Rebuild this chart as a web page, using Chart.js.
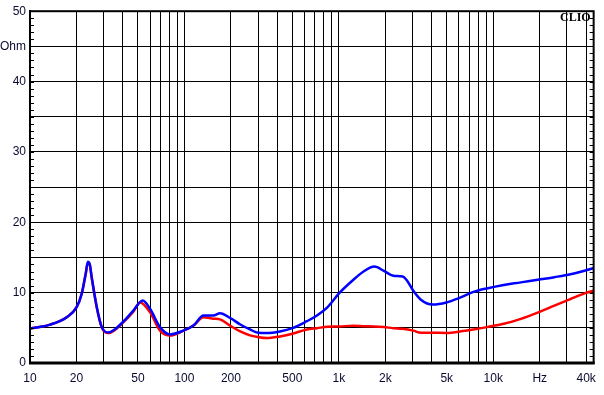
<!DOCTYPE html>
<html>
<head>
<meta charset="utf-8">
<script src="https://cdn.jsdelivr.net/npm/chart.js@4"></script>
<style>
  html, body { margin: 0; padding: 0; background: #ffffff; }
  #wrap { width: 604px; height: 395px; }
</style>
</head>
<body>
<div id="wrap"><canvas id="c" width="604" height="395"></canvas></div>
<script>
// ---- Data ----
const freqBlue = [10, 13.5, 17.3, 20, 21.6, 23, 23.7, 24.4, 25.1, 27.1, 29.2, 32.2, 35, 40.3, 46.7, 53.7, 59.9, 69.5, 80.8, 98.5, 114.5, 133, 154, 170, 198, 230, 266, 300, 341, 416, 500, 621, 722, 843, 1013, 1238, 1440, 1700, 1957, 2255, 2590, 2770, 3030, 3400, 4080, 4970, 6100, 7450, 9080, 11700, 15100, 19400, 24900, 31700, 39000, 44700];
const ohmBlue  = [4.9, 5.45, 6.5, 7.9, 9.8, 12.8, 14.4, 14.0, 12.2, 7.9, 5.1, 4.34, 4.7, 5.9, 7.45, 8.87, 7.7, 5.1, 4.06, 4.6, 5.33, 6.75, 6.75, 7.07, 6.4, 5.47, 4.77, 4.3, 4.25, 4.48, 4.95, 5.94, 6.75, 7.92, 10.0, 11.8, 12.97, 13.7, 13.1, 12.4, 12.3, 11.7, 10.3, 9.0, 8.3, 8.6, 9.3, 10.1, 10.6, 11.1, 11.46, 11.84, 12.2, 12.6, 13.1, 13.5];

const freqRed = [10, 13.5, 17.3, 20, 21.6, 23, 23.7, 24.4, 25.1, 27.1, 29.2, 32.2, 35, 40.3, 46.7, 51.7, 59.9, 69.5, 80.8, 98.5, 114.5, 133, 154, 170, 198, 230, 266, 300, 341, 416, 500, 621, 722, 843, 1013, 1238, 1440, 1700, 1957, 2255, 2590, 3030, 3400, 4080, 4970, 6100, 7450, 9080, 11700, 15100, 19400, 24900, 31700, 39000, 44700];
const ohmRed  = [4.9, 5.45, 6.5, 7.9, 9.8, 12.8, 14.3, 13.9, 12.1, 7.8, 5.0, 4.25, 4.6, 5.8, 7.3, 8.6, 7.2, 4.6, 3.9, 4.6, 5.33, 6.5, 6.3, 6.2, 5.3, 4.48, 3.92, 3.68, 3.54, 3.78, 4.15, 4.77, 4.95, 5.15, 5.2, 5.29, 5.24, 5.2, 5.1, 4.95, 4.86, 4.6, 4.3, 4.3, 4.28, 4.48, 4.77, 5.1, 5.57, 6.28, 7.17, 8.16, 9.1, 9.9, 10.3];

const xGridValues  = [10, 20, 30, 40, 50, 60, 70, 80, 90, 100, 200, 300, 400, 500, 600, 700, 800, 900, 1000, 2000, 3000, 4000, 5000, 6000, 7000, 8000, 9000, 10000, 20000, 30000, 40000];
const xLabelValues = [10, 20, 50, 100, 200, 500, 1000, 2000, 5000, 10000, 20000, 40000];
const xLabelTexts  = ['10', '20', '50', '100', '200', '500', '1k', '2k', '5k', '10k', 'Hz', '40k'];

const yLabelValues = [0, 10, 20, 30, 40, 45, 50];
const yLabelTexts  = ['0', '10', '20', '30', '40', 'Ohm', '50'];

const chartTitle = 'CLIO';

// ---- Helpers ----
const toPoints = (xs, ys) => xs.map((x, i) => ({ x: x, y: ys[i] }));
const textColor = '#0a0a30';
const tickFont = { family: "'Liberation Sans', Arial, sans-serif", size: 12 };

const framePlugin = {
  id: 'frame',
  afterDraw(chart) {
    const ctx = chart.ctx;
    const a = chart.chartArea;
    const ys = chart.scales.y;
    ctx.save();
    // minor ticks every 1 Ohm, inside left and right borders
    ctx.strokeStyle = '#000';
    ctx.lineWidth = 1;
    for (let v = ys.min; v <= ys.max; v += 1) {
      const py = Math.round(ys.getPixelForValue(v)) + 0.5;
      ctx.beginPath();
      ctx.moveTo(a.left, py); ctx.lineTo(a.left + 4, py);
      ctx.moveTo(a.right - 4, py); ctx.lineTo(a.right, py);
      ctx.stroke();
    }
    // frame
    ctx.lineWidth = 2;
    ctx.strokeRect(a.left, a.top, a.right - a.left, a.bottom - a.top);
    ctx.lineWidth = 3;
    ctx.beginPath();
    ctx.moveTo(a.left - 1, a.bottom); ctx.lineTo(a.right + 1, a.bottom);
    ctx.stroke();
    // title
    ctx.fillStyle = '#000';
    ctx.font = "bold 12px 'Liberation Serif', 'Times New Roman', serif";
    ctx.textAlign = 'right';
    ctx.textBaseline = 'alphabetic';
    ctx.fillText(chartTitle, a.right - 3, a.top + 10);
    ctx.restore();
  }
};

new Chart(document.getElementById('c'), {
  type: 'scatter',
  data: {
    datasets: [
      {
        label: 'blue',
        data: toPoints(freqBlue, ohmBlue),
        showLine: true,
        borderColor: '#0000ff',
        backgroundColor: '#0000ff',
        borderWidth: 2.5,
        pointRadius: 0,
        cubicInterpolationMode: 'monotone'
      },
      {
        label: 'red',
        data: toPoints(freqRed, ohmRed),
        showLine: true,
        borderColor: '#ff0000',
        backgroundColor: '#ff0000',
        borderWidth: 2.5,
        pointRadius: 0,
        cubicInterpolationMode: 'monotone'
      }
    ]
  },
  options: {
    responsive: false,
    animation: false,
    devicePixelRatio: 1,
    layout: { padding: { top: 9, right: 10, left: 0, bottom: 0 } },
    plugins: { legend: { display: false }, tooltip: { enabled: false } },
    scales: {
      x: {
        type: 'logarithmic',
        min: 10,
        max: 44700,
        afterBuildTicks(scale) { scale.ticks = xGridValues.map(v => ({ value: v })); },
        afterFit(scale) { scale.height = 32; },
        grid: { color: '#000', lineWidth: 1, drawTicks: false },
        border: { display: true, color: '#000', width: 2 },
        ticks: {
          autoSkip: false,
          maxRotation: 0,
          padding: 8,
          color: textColor,
          font: tickFont,
          callback(value) {
            const i = xLabelValues.indexOf(value);
            return i >= 0 ? xLabelTexts[i] : '';
          }
        }
      },
      y: {
        min: 0,
        max: 50,
        afterBuildTicks(scale) {
          const t = [];
          for (let v = 0; v <= 50; v += 5) t.push({ value: v });
          scale.ticks = t;
        },
        afterFit(scale) { scale.width = 30; },
        grid: { color: '#000', lineWidth: 1, drawTicks: false },
        border: { display: true, color: '#000', width: 2 },
        ticks: {
          padding: 4,
          color: textColor,
          font: tickFont,
          callback(value) {
            const i = yLabelValues.indexOf(value);
            return i >= 0 ? yLabelTexts[i] : '';
          }
        }
      }
    }
  },
  plugins: [framePlugin]
});
</script>
</body>
</html>
